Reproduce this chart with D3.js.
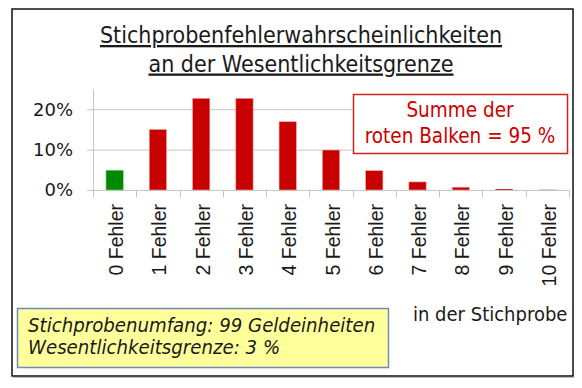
<!DOCTYPE html>
<html>
<head>
<meta charset="utf-8">
<script src="https://cdn.jsdelivr.net/npm/d3@7"></script>
<style>
  body { margin: 0; background: #fff; }
  svg { display: block; }
</style>
</head>
<body>
<svg id="Viz"></svg>
<script>
width = 582,
height = 388;

// values (probability in %)
var categories = ["0 Fehler", "1 Fehler", "2 Fehler", "3 Fehler", "4 Fehler", "5 Fehler",
                  "6 Fehler", "7 Fehler", "8 Fehler", "9 Fehler", "10 Fehler"];
var probabilities = [4.9, 15.0, 22.7, 22.7, 16.9, 9.9, 4.8, 2.0, 0.7, 0.2, 0.06];
var yTicks = [0, 10, 20];
var titleLines = ["Stichprobenfehlerwahrscheinlichkeiten", "an der Wesentlichkeitsgrenze"];
var sumLines = ["Summe der", "roten Balken = 95 %"];
var infoLines = ["Stichprobenumfang: 99 Geldeinheiten", "Wesentlichkeitsgrenze: 3 %"];
var xAxisNote = "in der Stichprobe";

function draw() {
  var svg = d3.select("#Viz").attr("width", width).attr("height", height);

  // outer frame
  svg.append("rect")
    .attr("x", 12).attr("y", 9).attr("width", 561).attr("height", 367)
    .attr("fill", "#fff").attr("stroke", "#111").attr("stroke-width", 1.5);
  svg.append("line")
    .attr("x1", 13).attr("x2", 574).attr("y1", 377.5).attr("y2", 377.5)
    .attr("stroke", "#bbb").attr("stroke-width", 1);

  // title
  svg.append("g").selectAll("text")
    .data(titleLines)
    .enter()
    .append("text")
      .attr("x", 301)
      .attr("y", function(d, i){ return 43 + i * 28.5 })
      .attr("text-anchor", "middle")
      .style("font-family", "'DejaVu Sans Condensed', 'DejaVu Sans', sans-serif")
      .style("font-size", "23px")
      .style("text-decoration", "underline")
      .attr("fill", "#1a1a1a")
      .text(function(d){ return d });

  var x = d3.scaleBand()
    .domain(categories)
    .range([93, 569])
    .paddingInner(0.6)
    .paddingOuter(0.3);

  var y = d3.scaleLinear()
    .domain([0, 25])
    .range([190, 89]);

  var step = x.step();

  // gridlines
  svg.append("g")
    .selectAll("line")
    .data(yTicks)
    .enter()
    .append("line")
      .attr("x1", 87).attr("x2", 569)
      .attr("y1", function(d){ return y(d) + 0.5 })
      .attr("y2", function(d){ return y(d) + 0.5 })
      .attr("stroke", "#c6c6c6").attr("stroke-width", 1);

  // y axis line
  svg.append("line")
    .attr("x1", 93.5).attr("x2", 93.5)
    .attr("y1", y(25)).attr("y2", 197)
    .attr("stroke", "#c6c6c6");

  // x ticks between categories
  svg.append("g")
    .selectAll("line")
    .data(d3.range(categories.length + 1))
    .enter()
    .append("line")
      .attr("x1", function(i){ return Math.round(x.range()[0] + i * step) + 0.5 })
      .attr("x2", function(i){ return Math.round(x.range()[0] + i * step) + 0.5 })
      .attr("y1", 190).attr("y2", 197)
      .attr("stroke", "#c6c6c6");

  // y labels
  svg.append("g")
    .selectAll("text")
    .data(yTicks)
    .enter()
    .append("text")
      .attr("x", 73)
      .attr("y", function(d){ return y(d) })
      .attr("dy", "0.36em")
      .attr("text-anchor", "end")
      .style("font-family", "'DejaVu Sans', sans-serif")
      .style("font-size", "18px")
      .attr("fill", "#1a1a1a")
      .text(function(d){ return d + "%" });

  // bars
  svg.append("g")
    .selectAll("rect")
    .data(probabilities)
    .enter()
    .append("rect")
      .attr("x", function(d, i){ return x(categories[i]) })
      .attr("y", function(d){ return y(d) })
      .attr("width", x.bandwidth())
      .attr("height", function(d){ return y(0) - y(d) })
      .attr("fill", function(d, i){ return i == 0 ? "#008a00" : "#c80000" })
      .attr("stroke", function(d, i){
        if (y(0) - y(d) < 1) return "none";
        return i == 0 ? "#8fd08f" : "#f0a8a8" })
      .attr("stroke-width", 0.6);

  // x labels, rotated
  svg.append("g")
    .selectAll("text")
    .data(categories)
    .enter()
    .append("text")
      .attr("transform", function(d){
        return "translate(" + (x(d) + x.bandwidth() / 2 + 1.5) + ",204) rotate(-90)" })
      .attr("dy", "0.36em")
      .attr("text-anchor", "end")
      .style("font-family", "'Liberation Sans', Arial, sans-serif")
      .style("font-size", "19.5px")
      .attr("fill", "#1a1a1a")
      .text(function(d){ return d });

  // red sum box
  svg.append("rect")
    .attr("x", 353.5).attr("y", 94.5).attr("width", 214).attr("height", 59)
    .attr("fill", "#fff").attr("stroke", "#d42020").attr("stroke-width", 1.5);
  svg.append("g").selectAll("text")
    .data(sumLines)
    .enter()
    .append("text")
      .attr("x", 460)
      .attr("y", function(d, i){ return 117 + i * 26 })
      .attr("text-anchor", "middle")
      .style("font-family", "'DejaVu Sans Condensed', 'DejaVu Sans', sans-serif")
      .style("font-size", "20.5px")
      .attr("fill", "#cc0000")
      .text(function(d){ return d });

  // axis note
  svg.append("text")
    .attr("x", 413).attr("y", 321)
    .style("font-family", "'DejaVu Sans Condensed', 'DejaVu Sans', sans-serif")
    .style("font-size", "20px")
    .attr("fill", "#1a1a1a")
    .text(xAxisNote);

  // yellow info box
  svg.append("rect")
    .attr("x", 17.5).attr("y", 308.5).attr("width", 371).attr("height", 59)
    .attr("fill", "#ffff9c").attr("stroke", "#6f8db8").attr("stroke-width", 1.5);
  svg.append("g").selectAll("text")
    .data(infoLines)
    .enter()
    .append("text")
      .attr("x", 28)
      .attr("y", function(d, i){ return 332 + i * 22 })
      .style("font-family", "'DejaVu Sans Condensed', 'DejaVu Sans', sans-serif")
      .style("font-style", "italic")
      .style("font-size", "20.2px")
      .attr("fill", "#1a1a1a")
      .text(function(d){ return d });
}

document.addEventListener('DOMContentLoaded', () => {
  draw();
});
</script>
</body>
</html>
